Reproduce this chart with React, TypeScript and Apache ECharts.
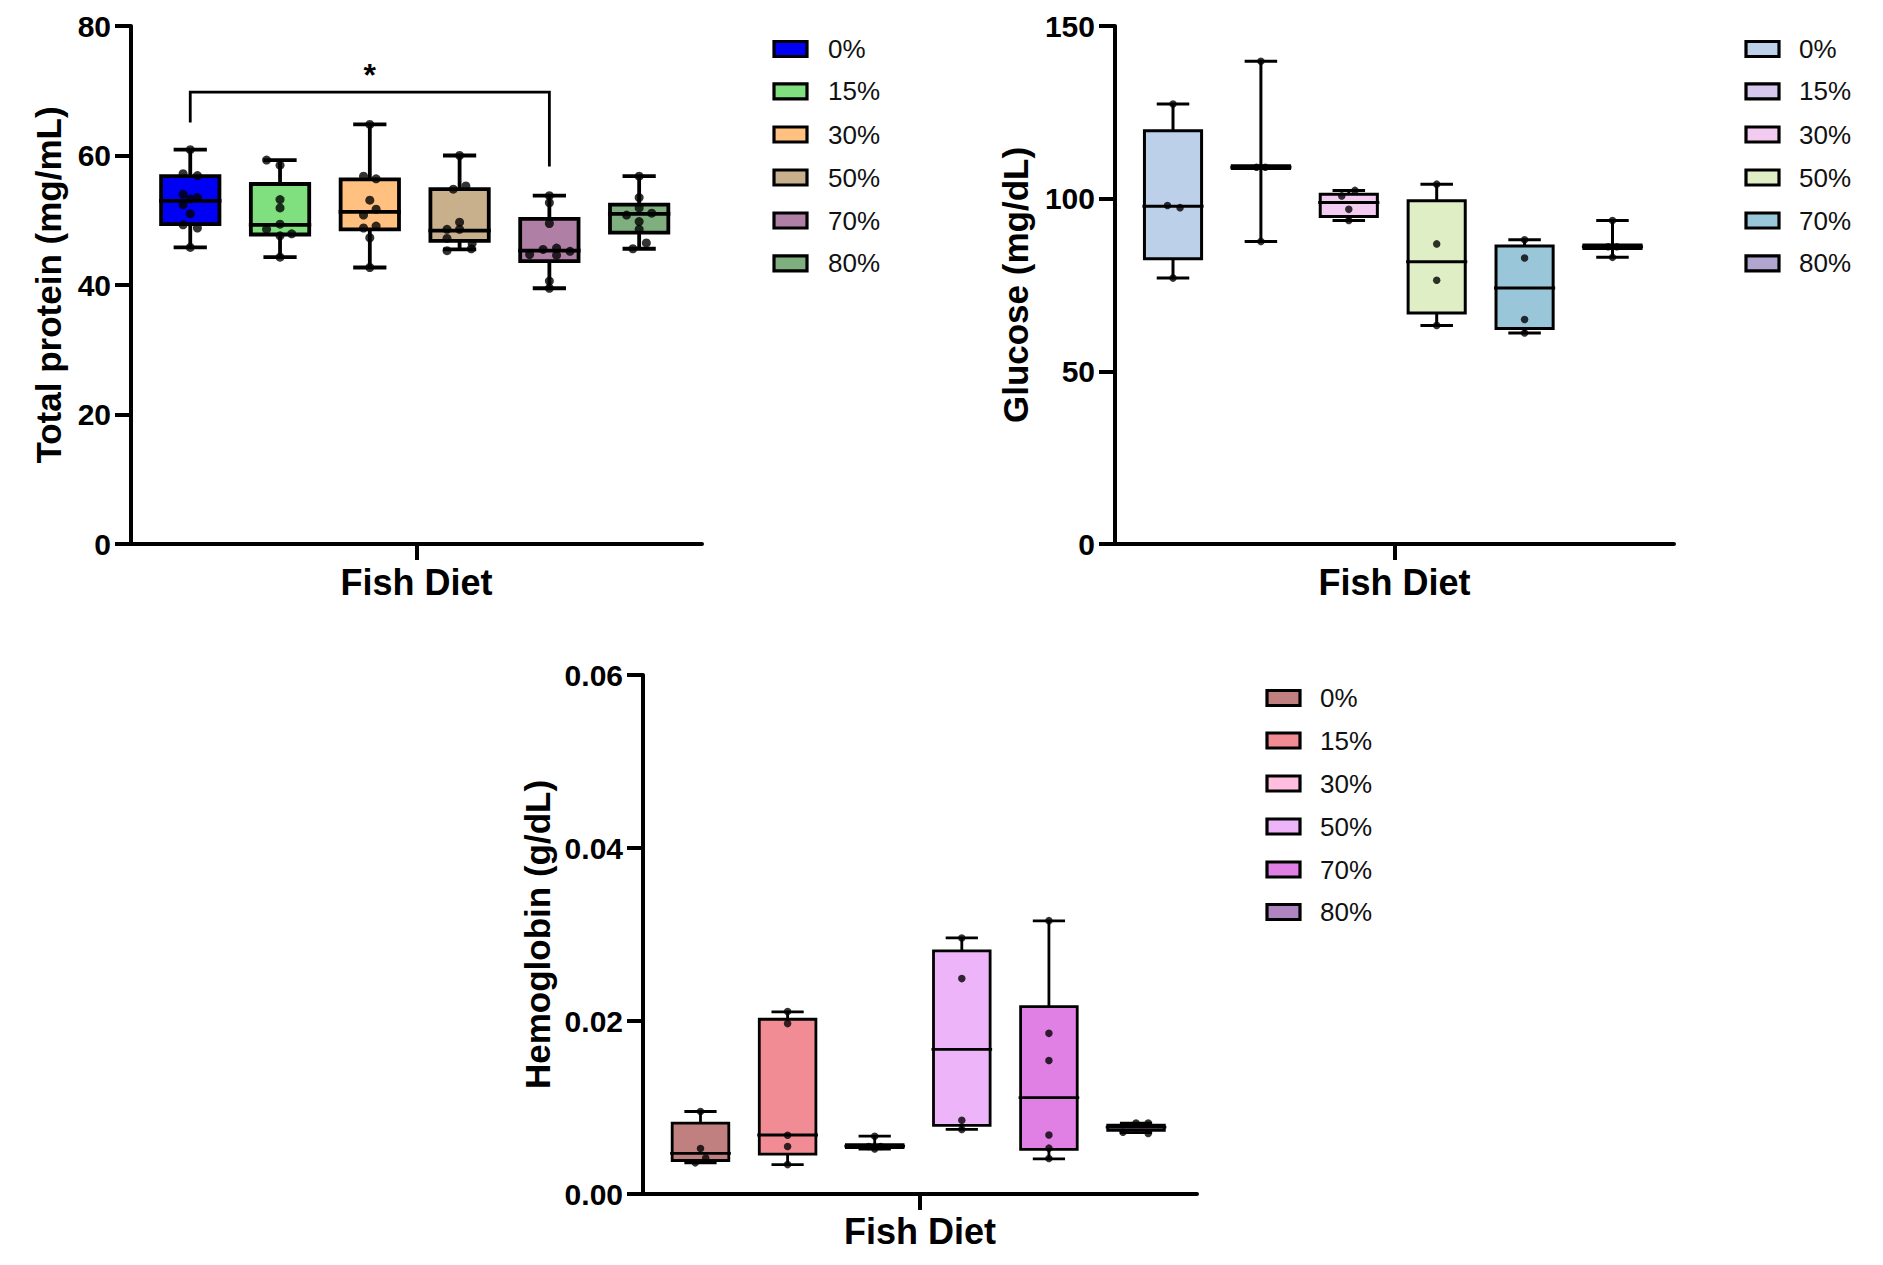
import React, { useEffect, useRef } from "react";
import * as echarts from "echarts";

const groups = ["0%", "15%", "30%", "50%", "70%", "80%"];

// ---- Total protein (mg/mL): [min, Q1, median, Q3, max]
const proteinBoxes = [
  [45.8, 49.4, 53.0, 56.8, 60.9],
  [44.3, 47.8, 49.3, 55.6, 59.3],
  [42.7, 48.6, 51.3, 56.3, 64.8],
  [45.5, 46.8, 48.4, 54.8, 60.0],
  [39.5, 43.7, 45.3, 50.2, 53.8],
  [45.6, 48.1, 51.0, 52.4, 56.8],
];
const proteinPoints = [
  [60.9, 57.2, 56.9, 54.0, 53.5, 53.3, 52.4, 51.0, 49.3, 48.8, 45.8],
  [59.3, 58.5, 53.2, 51.9, 49.4, 48.6, 47.9, 47.6, 44.3],
  [64.8, 56.8, 56.4, 53.1, 51.7, 50.8, 49.1, 48.8, 47.3, 42.7],
  [60.0, 55.3, 54.8, 49.7, 48.6, 48.6, 47.2, 46.4, 45.6, 45.3],
  [53.8, 52.7, 49.5, 45.7, 45.5, 45.2, 44.7, 44.6, 40.6, 39.5],
  [56.8, 53.5, 51.9, 51.1, 50.8, 49.8, 48.6, 46.5, 45.6],
];
const proteinJitter = [
  [0, -0.08, 0.08, -0.08, 0.08, 0, -0.08, 0, -0.08, 0.08, 0],
  [-0.15, 0, 0, 0, 0, -0.15, 0.13, 0, 0],
  [0, -0.07, 0.07, 0, 0.07, -0.07, 0.07, -0.07, 0, 0],
  [0, 0.07, -0.07, 0, -0.14, 0, -0.14, 0.14, 0.13, -0.14],
  [0, 0, 0, 0.08, -0.07, 0.23, -0.22, 0.08, 0, 0],
  [0, 0, 0, 0.14, -0.14, 0, 0, 0.08, -0.07],
];
const proteinColors = ["#0000F5", "#80E080", "#FFC080", "#C8B08C", "#B07FA5", "#7FAF7F"];
const proteinTicks = { min: 0, max: 80, interval: 20 };
// significance bracket 0% vs 70%
const sigFrom = 0;
const sigTo = 4;
const sigTop = 69.8;
const sigLeftEnd = 65.1;
const sigRightEnd = 58.3;
const sigLabel = "*";
const sigLabelAt = 72.4;

// ---- Glucose (mg/dL)
const glucoseBoxes = [
  [77.0, 82.6, 97.8, 119.7, 127.4],
  [87.6, 108.7, 109.1, 109.5, 139.8],
  [93.7, 94.8, 98.9, 101.3, 102.4],
  [63.3, 66.9, 81.7, 99.4, 104.2],
  [61.1, 62.4, 74.1, 86.3, 88.1],
  [83.0, 85.6, 86.1, 86.6, 93.7],
];
const glucosePoints = [
  [127.4, 98.0, 97.4, 77.0],
  [139.8, 109.1, 109.1, 87.6],
  [102.4, 100.8, 96.9, 93.7],
  [104.2, 86.9, 76.4, 63.3],
  [88.1, 82.8, 65.0, 61.1],
  [93.7, 86.1, 86.1, 83.0],
];
const glucoseJitter = [
  [0, -0.063, 0.08, 0],
  [0, -0.05, 0.05, 0],
  [0.07, -0.08, 0, 0],
  [0, 0, 0, 0],
  [0, 0, 0, 0],
  [0, -0.05, 0.05, 0],
];
const glucoseColors = ["#BCD0EA", "#D6C8EC", "#F4CBF0", "#E0EEC6", "#99C6D8", "#B1A6CF"];
const glucoseTicks = { min: 0, max: 150, interval: 50 };

// ---- Hemoglobin (g/dL)
const hbBoxes = [
  [0.0036, 0.00387, 0.0047, 0.0082, 0.00954],
  [0.0034, 0.0046, 0.00682, 0.0202, 0.02106],
  [0.0052, 0.00535, 0.00553, 0.0057, 0.00668],
  [0.00747, 0.00793, 0.01673, 0.0281, 0.0296],
  [0.00406, 0.00516, 0.01115, 0.02166, 0.03157],
  [0.0071, 0.00737, 0.00774, 0.00797, 0.0082],
];
const hbPoints = [
  [0.00954, 0.00525, 0.00415, 0.0036],
  [0.0211, 0.0197, 0.0068, 0.0055, 0.0034],
  [0.00668, 0.0055, 0.0055, 0.0052],
  [0.0296, 0.0249, 0.00853, 0.00747],
  [0.0316, 0.01857, 0.01544, 0.00682, 0.0053, 0.0041],
  [0.00714, 0.0082, 0.0082, 0.007],
];
const hbJitter = [
  [0, 0, 0.06, -0.06],
  [0, 0, 0, 0, 0],
  [0, -0.07, 0.07, 0],
  [0, 0, 0, 0],
  [0, 0, 0, 0, 0, 0],
  [-0.15, 0, 0.14, 0.14],
];
const hbColors = ["#C08080", "#F28C94", "#FFBEE0", "#EEB4FA", "#E080E4", "#B084C0"];
const hbTicks = { min: 0, max: 0.06, interval: 0.02 };

// ---- layout / style constants
const FONT = "'Liberation Sans', Arial, Helvetica, sans-serif";
const X_MIN = -0.66;
const X_MAX = 5.7;
const BOX_W = 0.65;
const CAP_W = 0.37;

const panels = [
  {
    grid: { left: 131, top: 26, width: 571, height: 518 },
    yName: "Total protein (mg/mL)",
    yGap: 65,
    xGap: 20,
    ticks: proteinTicks,
    boxes: proteinBoxes,
    points: proteinPoints,
    jitter: proteinJitter,
    colors: proteinColors,
    lineW: 3.8,
    dot: 9,
    fmt: (v: number) => String(v),
    legend: { swatchX: 774, textX: 828, rows: [49, 91.3, 134.5, 177.5, 220.5, 263.3] },
  },
  {
    grid: { left: 1115, top: 26, width: 559, height: 518 },
    yName: "Glucose (mg/dL)",
    yGap: 82,
    xGap: 20,
    ticks: glucoseTicks,
    boxes: glucoseBoxes,
    points: glucosePoints,
    jitter: glucoseJitter,
    colors: glucoseColors,
    lineW: 3,
    dot: 7.5,
    fmt: (v: number) => String(v),
    legend: { swatchX: 1746, textX: 1799, rows: [49, 91.3, 134.5, 177.5, 220.5, 263.3] },
  },
  {
    grid: { left: 643, top: 675, width: 554, height: 519 },
    yName: "Hemoglobin (g/dL)",
    yGap: 88,
    xGap: 19,
    ticks: hbTicks,
    boxes: hbBoxes,
    points: hbPoints,
    jitter: hbJitter,
    colors: hbColors,
    lineW: 2.8,
    dot: 7.5,
    fmt: (v: number) => v.toFixed(2),
    legend: { swatchX: 1267, textX: 1320, rows: [698, 740.5, 783.5, 826.5, 869.5, 912] },
  },
];

function makeBoxRender(colors: string[], lineW: number) {
  return (params: any, api: any) => {
    const x = api.value(0);
    const mn = api.value(1);
    const q1 = api.value(2);
    const md = api.value(3);
    const q3 = api.value(4);
    const mx = api.value(5);
    const cx = api.coord([x, mn])[0];
    const unit = api.size([1, 0])[0];
    const hw = (unit * BOX_W) / 2;
    const cw = (unit * CAP_W) / 2;
    const y = (v: number) => api.coord([x, v])[1];
    const stroke = { stroke: "#000", lineWidth: lineW, fill: null };
    return {
      type: "group",
      children: [
        { type: "line", shape: { x1: cx, y1: y(q3), x2: cx, y2: y(mx) }, style: stroke },
        { type: "line", shape: { x1: cx, y1: y(q1), x2: cx, y2: y(mn) }, style: stroke },
        { type: "line", shape: { x1: cx - cw, y1: y(mx), x2: cx + cw, y2: y(mx) }, style: stroke },
        { type: "line", shape: { x1: cx - cw, y1: y(mn), x2: cx + cw, y2: y(mn) }, style: stroke },
        {
          type: "rect",
          shape: { x: cx - hw, y: y(q3), width: 2 * hw, height: y(q1) - y(q3) },
          style: { fill: colors[params.dataIndex], stroke: "#000", lineWidth: lineW },
        },
        {
          type: "line",
          shape: { x1: cx - hw - 2, y1: y(md), x2: cx + hw + 2, y2: y(md) },
          style: stroke,
        },
      ],
    };
  };
}

function legendGraphics(colors: string[], lg: { swatchX: number; textX: number; rows: number[] }) {
  const els: any[] = [];
  groups.forEach((g, i) => {
    const cy = lg.rows[i];
    els.push({
      type: "rect",
      shape: { x: lg.swatchX, y: cy - 7.5, width: 33, height: 15 },
      style: { fill: colors[i], stroke: "#000", lineWidth: 3.2 },
    });
    els.push({
      type: "text",
      x: lg.textX,
      y: cy,
      style: {
        text: g,
        fontSize: 26,
        fontFamily: FONT,
        fill: "#111",
        verticalAlign: "middle",
        align: "left",
      },
    });
  });
  return els;
}

export default function App() {
  const ref = useRef<HTMLDivElement>(null);
  useEffect(() => {
    if (!ref.current) return;
    const chart = echarts.init(ref.current, undefined, { renderer: "svg" });

    const grid: any[] = [];
    const xAxis: any[] = [];
    const yAxis: any[] = [];
    const series: any[] = [];
    let graphic: any[] = [];

    panels.forEach((p, gi) => {
      grid.push({ ...p.grid, containLabel: false });
      xAxis.push({
        gridIndex: gi,
        type: "value",
        min: X_MIN,
        max: X_MAX,
        axisLine: { show: true, onZero: false, lineStyle: { color: "#000", width: 4 } },
        axisTick: {
          show: true,
          customValues: [(X_MIN + X_MAX) / 2],
          length: 16,
          lineStyle: { color: "#000", width: 4 },
        },
        axisLabel: { show: false },
        splitLine: { show: false },
        name: "Fish Diet",
        nameLocation: "middle",
        nameGap: p.xGap,
        nameTextStyle: {
          fontSize: 36,
          fontWeight: "bold",
          fontFamily: FONT,
          color: "#000",
          verticalAlign: "top",
        },
      });
      yAxis.push({
        gridIndex: gi,
        type: "value",
        min: p.ticks.min,
        max: p.ticks.max,
        interval: p.ticks.interval,
        axisLine: { show: true, onZero: false, lineStyle: { color: "#000", width: 4 } },
        axisTick: { show: true, length: 16, lineStyle: { color: "#000", width: 4 } },
        axisLabel: {
          margin: 20,
          fontSize: 30,
          fontWeight: "bold",
          fontFamily: FONT,
          color: "#000",
          formatter: p.fmt,
        },
        splitLine: { show: false },
        name: p.yName,
        nameLocation: "middle",
        nameGap: p.yGap,
        nameTextStyle: {
          fontSize: 35,
          fontWeight: "bold",
          fontFamily: FONT,
          color: "#000",
        },
      });

      series.push({
        type: "custom",
        name: "box" + gi,
        xAxisIndex: gi,
        yAxisIndex: gi,
        clip: false,
        z: 2,
        encode: { x: 0, y: [1, 2, 3, 4, 5] },
        renderItem: makeBoxRender(p.colors, p.lineW),
        data: p.boxes.map((b, i) => [i, ...b]),
      });

      const pts: number[][] = [];
      p.points.forEach((arr, i) => {
        arr.forEach((v, k) => pts.push([i + p.jitter[i][k], v]));
      });
      series.push({
        type: "scatter",
        name: "points" + gi,
        xAxisIndex: gi,
        yAxisIndex: gi,
        z: 5,
        symbol: "circle",
        symbolSize: p.dot,
        itemStyle: { color: "#000" },
        data: pts,
      });

      graphic = graphic.concat(legendGraphics(p.colors, p.legend));
    });

    // significance bracket on panel 0
    series.push({
      type: "custom",
      name: "significance",
      xAxisIndex: 0,
      yAxisIndex: 0,
      clip: false,
      z: 3,
      renderItem: (params: any, api: any) => {
        const a = api.value(0);
        const b = api.value(1);
        const top = api.value(2);
        const le = api.value(3);
        const re = api.value(4);
        const p1 = api.coord([a, le]);
        const p2 = api.coord([a, top]);
        const p3 = api.coord([b, top]);
        const p4 = api.coord([b, re]);
        const star = api.coord([(a + b) / 2, sigLabelAt]);
        return {
          type: "group",
          children: [
            {
              type: "polyline",
              shape: { points: [p1, p2, p3, p4] },
              style: { stroke: "#000", lineWidth: 2.8, fill: null },
            },
            {
              type: "text",
              x: star[0],
              y: star[1],
              style: {
                text: sigLabel,
                fontSize: 32,
                fontWeight: "bold",
                fontFamily: FONT,
                fill: "#000",
                align: "center",
                verticalAlign: "middle",
              },
            },
          ],
        };
      },
      data: [[sigFrom, sigTo, sigTop, sigLeftEnd, sigRightEnd]],
    });

    chart.setOption({
      animation: false,
      backgroundColor: "#fff",
      grid,
      xAxis,
      yAxis,
      series,
      graphic,
    });
    return () => chart.dispose();
  }, []);

  return (
    <div
      ref={ref}
      style={{ position: "absolute", left: 0, top: 0, width: 1883, height: 1265, background: "#fff" }}
    />
  );
}
